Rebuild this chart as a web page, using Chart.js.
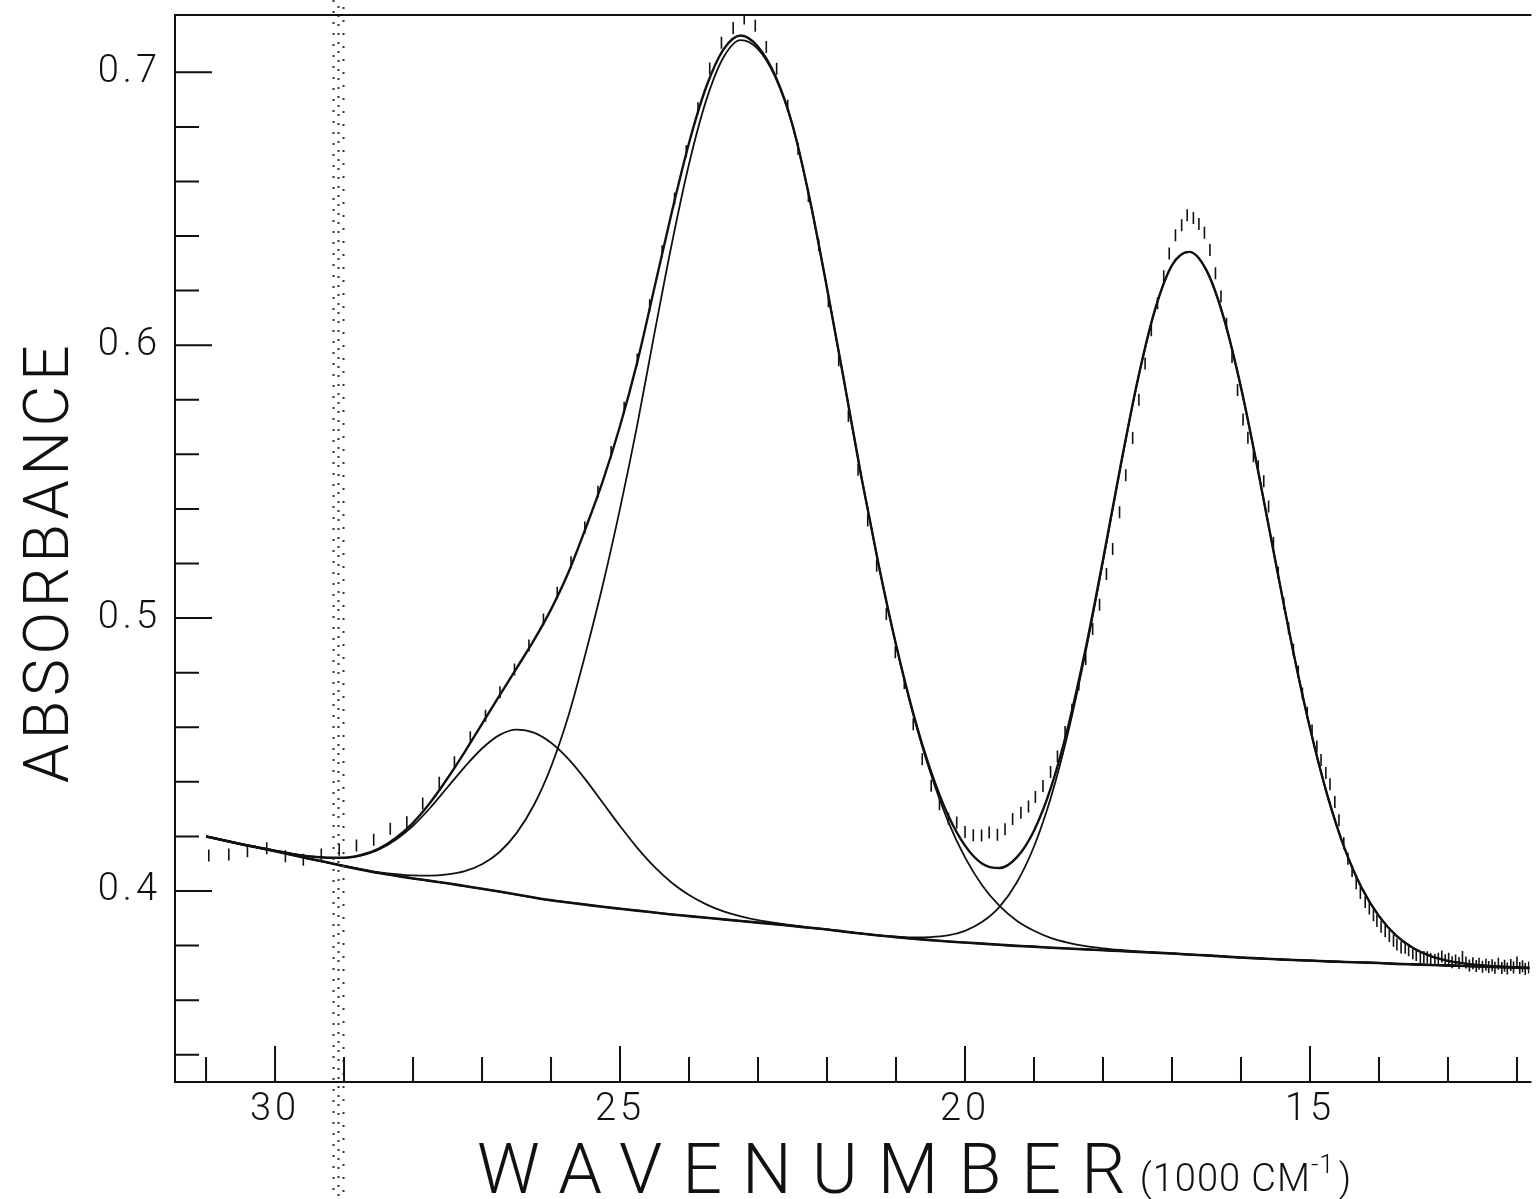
<!DOCTYPE html>
<html>
<head>
<meta charset="utf-8">
<script src="https://cdn.jsdelivr.net/npm/chart.js@4.4.1/dist/chart.umd.min.js"></script>
<style>
  html, body { margin: 0; padding: 0; background: #fff; overflow: hidden; }
  #wrap { width: 1537px; height: 1199px; }
</style>
</head>
<body>
<div id="wrap"><canvas id="spectrum" width="1537" height="1199"></canvas></div>
<script>
// fitted curves, read every 250 cm-1 (x in 1000 cm-1)
const wavenumber = [
  31.0, 30.75, 30.5, 30.25, 30.0, 29.75, 29.5, 29.25, 29.0, 28.75,
  28.5, 28.25, 28.0, 27.75, 27.5, 27.25, 27.0, 26.75, 26.5, 26.25,
  26.0, 25.75, 25.5, 25.25, 25.0, 24.75, 24.5, 24.25, 24.0, 23.75,
  23.5, 23.25, 23.0, 22.75, 22.5, 22.25, 22.0, 21.75, 21.5, 21.25,
  21.0, 20.75, 20.5, 20.25, 20.0, 19.75, 19.5, 19.25, 19.0, 18.75,
  18.5, 18.25, 18.0, 17.75, 17.5, 17.25, 17.0, 16.75, 16.5, 16.25,
  16.0, 15.75, 15.5, 15.25, 15.0, 14.75, 14.5, 14.25, 14.0, 13.75,
  13.5, 13.25, 13.0, 12.75, 12.5, 12.25, 12.0, 11.75
];

const baselineFit = [
  .4200, .4186, .4172, .4159, .4146, .4132, .4118, .4105, .4091, .4078,
  .4066, .4056, .4046, .4037, .4028, .4018, .4008, .3998, .3987, .3976,
  .3966, .3958, .3950, .3942, .3935, .3928, .3921, .3914, .3908, .3902,
  .3896, .3890, .3884, .3878, .3872, .3865, .3859, .3851, .3844, .3837,
  .3831, .3825, .3820, .3815, .3811, .3807, .3803, .3799, .3796, .3792,
  .3789, .3786, .3783, .3780, .3777, .3774, .3771, .3767, .3764, .3760,
  .3756, .3753, .3750, .3747, .3745, .3742, .3740, .3738, .3736, .3733,
  .3731, .3729, .3727, .3725, .3723, .3721, .3719, .3717
];

// band near 26 400 cm-1, on the baseline
const band1Fit = [
  .4200, .4186, .4172, .4160, .4148, .4136, .4127, .4122, .4121, .4130,
  .4151, .4188, .4239, .4305, .4380, .4455, .4522, .4571, .4591, .4580,
  .4543, .4484, .4408, .4323, .4238, .4158, .4088, .4030, .3985, .3951,
  .3925, .3907, .3893, .3883, .3874, .3866, .3859, .3851, .3844, .3837,
  .3831, .3825, .3820, .3815, .3811, .3807, .3803, .3799, .3796, .3792,
  .3789, .3786, .3783, .3780, .3777, .3774, .3771, .3767, .3764, .3760,
  .3756, .3753, .3750, .3747, .3745, .3742, .3740, .3738, .3736, .3733,
  .3731, .3729, .3727, .3725, .3723, .3721, .3719, .3717
];

// band near 23 200 cm-1
const band2Fit = [
  .4200, .4186, .4172, .4159, .4146, .4132, .4118, .4105, .4092, .4080,
  .4069, .4062, .4057, .4056, .4061, .4073, .4098, .4142, .4212, .4314,
  .4455, .4640, .4870, .5121, .5401, .5708, .6045, .6371, .6664, .6898,
  .7055, .7118, .7085, .6982, .6805, .6534, .6209, .5865, .5514, .5193,
  .4901, .4646, .4432, .4258, .4123, .4020, .3945, .3891, .3854, .3827,
  .3810, .3798, .3790, .3784, .3779, .3774, .3771, .3767, .3764, .3760,
  .3756, .3753, .3750, .3747, .3745, .3742, .3740, .3738, .3736, .3733,
  .3731, .3729, .3727, .3725, .3723, .3721, .3719, .3717
];

// band near 16 800 cm-1
const band3Fit = [
  .4200, .4186, .4172, .4159, .4146, .4132, .4118, .4105, .4091, .4078,
  .4066, .4056, .4046, .4037, .4028, .4018, .4008, .3998, .3987, .3976,
  .3966, .3958, .3950, .3942, .3935, .3928, .3921, .3914, .3908, .3902,
  .3896, .3890, .3884, .3878, .3872, .3865, .3859, .3851, .3844, .3837,
  .3833, .3830, .3831, .3837, .3854, .3887, .3942, .4031, .4163, .4347,
  .4587, .4878, .5207, .5548, .5867, .6127, .6293, .6342, .6274, .6100,
  .5845, .5536, .5207, .4886, .4597, .4352, .4157, .4011, .3908, .3836,
  .3790, .3761, .3744, .3734, .3727, .3723, .3720, .3717
];

// sum of the three bands and the baseline
const totalFit = [
  .4200, .4186, .4172, .4160, .4148, .4136, .4127, .4122, .4122, .4132,
  .4154, .4194, .4250, .4324, .4413, .4510, .4612, .4715, .4816, .4918,
  .5032, .5166, .5328, .5502, .5704, .5938, .6212, .6487, .6741, .6947,
  .7084, .7135, .7094, .6987, .6807, .6535, .6209, .5865, .5514, .5193,
  .4903, .4651, .4443, .4280, .4166, .4100, .4084, .4123, .4221, .4382,
  .4608, .4890, .5214, .5552, .5869, .6127, .6293, .6342, .6274, .6100,
  .5845, .5536, .5207, .4886, .4597, .4352, .4157, .4011, .3908, .3836,
  .3790, .3761, .3744, .3734, .3727, .3723, .3720, .3717
];

// measured spectrum, one reading every 3 nm
const measuredWn = [
  30.96, 30.67, 30.40, 30.12, 29.85, 29.59, 29.33, 29.07, 28.82, 28.57,
  28.33, 28.09, 27.86, 27.62, 27.40, 27.17, 26.95, 26.74, 26.53, 26.32,
  26.11, 25.91, 25.71, 25.51, 25.32, 25.13, 24.94, 24.75, 24.57, 24.39,
  24.21, 24.04, 23.87, 23.70, 23.53, 23.36, 23.20, 23.04, 22.88, 22.73,
  22.57, 22.42, 22.27, 22.12, 21.98, 21.83, 21.69, 21.55, 21.41, 21.28,
  21.14, 21.01, 20.88, 20.75, 20.62, 20.49, 20.37, 20.24, 20.12, 20.00,
  19.88, 19.76, 19.65, 19.53, 19.42, 19.31, 19.19, 19.08, 18.98, 18.87,
  18.76, 18.66, 18.55, 18.45, 18.35, 18.25, 18.15, 18.05, 17.95, 17.86,
  17.76, 17.67, 17.57, 17.48, 17.39, 17.30, 17.21, 17.12, 17.04, 16.95,
  16.86, 16.78, 16.69, 16.61, 16.53, 16.45, 16.37, 16.29, 16.21, 16.13,
  16.05, 15.97, 15.90, 15.82, 15.75, 15.67, 15.60, 15.53, 15.46, 15.38,
  15.31, 15.24, 15.17, 15.11, 15.04, 14.97, 14.90, 14.84, 14.77, 14.71,
  14.64, 14.58, 14.51, 14.45, 14.39, 14.33, 14.27, 14.20, 14.14, 14.08,
  14.03, 13.97, 13.91, 13.85, 13.79, 13.74, 13.68, 13.62, 13.57, 13.51,
  13.46, 13.40, 13.35, 13.30, 13.25, 13.19, 13.14, 13.09, 13.04, 12.99,
  12.94, 12.89, 12.84, 12.79, 12.74, 12.69, 12.64, 12.59, 12.55, 12.50,
  12.45, 12.41, 12.36, 12.32, 12.27, 12.22, 12.18, 12.14, 12.09, 12.05,
  12.00, 11.96, 11.92, 11.88, 11.83
];

const measuredAbs = [
  .4130, .4134, .4146, .4157, .4127, .4114, .4134, .4151, .4167, .4188,
  .4228, .4252, .4321, .4397, .4472, .4563, .4642, .4728, .4812, .4900,
  .4995, .5093, .5205, .5332, .5463, .5609, .5771, .5948, .6146, .6344,
  .6538, .6711, .6868, .7014, .7108, .7162, .7197, .7171, .7093, .7013,
  .6877, .6720, .6547, .6366, .6161, .5945, .5741, .5544, .5358, .5192,
  .5015, .4875, .4762, .4611, .4483, .4386, .4318, .4265, .4251, .4216,
  .4204, .4203, .4214, .4206, .4226, .4264, .4287, .4310, .4344, .4385,
  .4436, .4493, .4583, .4664, .4757, .4850, .4960, .5049, .5162, .5253,
  .5388, .5523, .5660, .5800, .5933, .6055, .6154, .6253, .6336, .6403,
  .6440, .6476, .6466, .6444, .6412, .6349, .6264, .6178, .6079, .5957,
  .5836, .5728, .5661, .5593, .5556, .5501, .5409, .5276, .5166, .5053,
  .4963, .4884, .4804, .4724, .4653, .4588, .4529, .4480, .4432, .4391,
  .4326, .4259, .4175, .4118, .4073, .4028, .3993, .3960, .3936, .3911,
  .3890, .3869, .3852, .3835, .3818, .3804, .3793, .3792, .3783, .3772,
  .3765, .3758, .3758, .3757, .3751, .3747, .3752, .3760, .3746, .3752,
  .3739, .3745, .3736, .3758, .3738, .3727, .3735, .3725, .3733, .3722,
  .3730, .3721, .3728, .3719, .3733, .3718, .3726, .3716, .3729, .3720,
  .3738, .3718, .3724, .3714, .3720
];

const wnTicks = [30, 25, 20, 15];
const wnMinorTicks = [31, 30, 29, 28, 27, 26, 25, 24, 23, 22, 21, 20, 19, 18, 17, 16, 15, 14, 13, 12];
const absTicks = [0.4, 0.5, 0.6, 0.7];
const absMinorTicks = [0.34, 0.36, 0.38, 0.40, 0.42, 0.44, 0.46, 0.48, 0.50, 0.52,
                       0.54, 0.56, 0.58, 0.60, 0.62, 0.64, 0.66, 0.68, 0.70];
const scanStreakWn = 29.08;   // dotted copier streak across the scan

const ink = '#111';
const plotFont = 'Roboto, "DejaVu Sans", sans-serif';

function toPoints(xs, ys) {
  return xs.map((x, i) => ({ x: x, y: ys[i] }));
}

function fitLine(values, width) {
  return {
    data: toPoints(wavenumber, values),
    showLine: true,
    borderColor: ink,
    borderWidth: width,
    pointRadius: 0,
    cubicInterpolationMode: 'monotone',
    fill: false
  };
}

// frame, inward ticks, axis titles
const plotterFrame = {
  id: 'plotterFrame',
  beforeDraw(chart) {
    chart.ctx.letterSpacing = '4px';
  },
  afterDraw(chart) {
    const ctx = chart.ctx;
    const area = chart.chartArea;
    const xs = chart.scales.x;
    const ys = chart.scales.y;
    ctx.save();
    ctx.letterSpacing = '0px';

    // streak
    const sx = xs.getPixelForValue(scanStreakWn);
    ctx.strokeStyle = '#333';
    ctx.lineWidth = 2;
    [[-5, [2, 9], 0], [0, [2, 7], 3], [5, [2, 11], 6]].forEach(([dx, dash, off]) => {
      ctx.setLineDash(dash);
      ctx.lineDashOffset = off;
      ctx.beginPath();
      ctx.moveTo(sx + dx, 0);
      ctx.lineTo(sx + dx, chart.height);
      ctx.stroke();
    });
    ctx.setLineDash([]);

    // frame
    ctx.strokeStyle = ink;
    ctx.lineWidth = 2;
    ctx.beginPath();
    ctx.moveTo(area.right + 2, area.top);
    ctx.lineTo(area.left, area.top);
    ctx.lineTo(area.left, area.bottom);
    ctx.lineTo(area.right + 2, area.bottom);
    ctx.stroke();

    // ticks drawn inside the frame
    ctx.beginPath();
    absMinorTicks.forEach(v => {
      const py = ys.getPixelForValue(v);
      const len = absTicks.some(t => Math.abs(t - v) < 1e-6) ? 37 : 24;
      ctx.moveTo(area.left, py);
      ctx.lineTo(area.left + len, py);
    });
    wnMinorTicks.forEach(v => {
      const px = xs.getPixelForValue(v);
      const len = wnTicks.includes(v) ? 36 : 25;
      ctx.moveTo(px, area.bottom);
      ctx.lineTo(px, area.bottom - len);
    });
    ctx.stroke();

    // x title
    ctx.fillStyle = ink;
    ctx.textAlign = 'left';
    ctx.textBaseline = 'alphabetic';
    const ty = area.bottom + 111;
    let tx = area.left + 302;
    ctx.font = '300 70px ' + plotFont;
    ctx.letterSpacing = '20px';
    ctx.fillText('WAVENUMBER', tx, ty);
    tx += ctx.measureText('WAVENUMBER').width - 6;
    ctx.font = '300 38px ' + plotFont;
    ctx.letterSpacing = '1px';
    ctx.fillText('(1000 CM', tx, ty - 2);
    tx += ctx.measureText('(1000 CM').width;
    ctx.font = '300 26px ' + plotFont;
    ctx.fillText('-1', tx, ty - 20);
    tx += ctx.measureText('-1').width + 4;
    ctx.font = '300 38px ' + plotFont;
    ctx.fillText(')', tx, ty - 2);

    // y title
    ctx.save();
    ctx.translate(area.left - 123, area.top + 547);
    ctx.rotate(-Math.PI / 2);
    ctx.textAlign = 'center';
    ctx.textBaseline = 'middle';
    ctx.font = '300 63px ' + plotFont;
    ctx.letterSpacing = '4.5px';
    ctx.fillText('ABSORBANCE', 0, 0);
    ctx.restore();

    ctx.restore();
  }
};

new Chart(document.getElementById('spectrum'), {
  type: 'scatter',
  data: {
    datasets: [
      {
        data: toPoints(measuredWn, measuredAbs),
        pointStyle: 'line',
        rotation: 90,
        pointRadius: 6,
        pointHoverRadius: 6,
        borderColor: ink,
        borderWidth: 1.6
      },
      fitLine(totalFit, 2.4),
      fitLine(band1Fit, 1.8),
      fitLine(band2Fit, 1.8),
      fitLine(band3Fit, 1.8),
      fitLine(baselineFit, 2.6)
    ]
  },
  options: {
    responsive: false,
    animation: false,
    events: [],
    layout: { padding: { top: 15, right: 0, bottom: 0, left: 0 } },
    plugins: {
      legend: { display: false },
      tooltip: { enabled: false }
    },
    scales: {
      x: {
        type: 'linear',
        reverse: true,
        min: 11.82,
        max: 31.45,
        afterFit(scale) {
          scale.height = 117;
          scale.paddingLeft = 0;
          scale.paddingRight = 0;
        },
        afterBuildTicks(scale) { scale.ticks = wnTicks.map(v => ({ value: v })); },
        grid: { display: false, drawTicks: false },
        border: { display: false },
        ticks: {
          color: ink,
          padding: 6,
          maxRotation: 0,
          font: { family: plotFont, size: 38, weight: '300' },
          callback: v => String(v)
        }
      },
      y: {
        type: 'linear',
        min: 0.33,
        max: 0.721,
        afterFit(scale) {
          scale.width = 175;
          scale.paddingTop = 0;
          scale.paddingBottom = 0;
        },
        afterBuildTicks(scale) { scale.ticks = absTicks.map(v => ({ value: v })); },
        grid: { display: false, drawTicks: false },
        border: { display: false },
        ticks: {
          color: ink,
          padding: 14,
          font: { family: plotFont, size: 38, weight: '300' },
          callback: v => v.toFixed(1)
        }
      }
    }
  },
  plugins: [plotterFrame]
});
</script>
</body>
</html>
